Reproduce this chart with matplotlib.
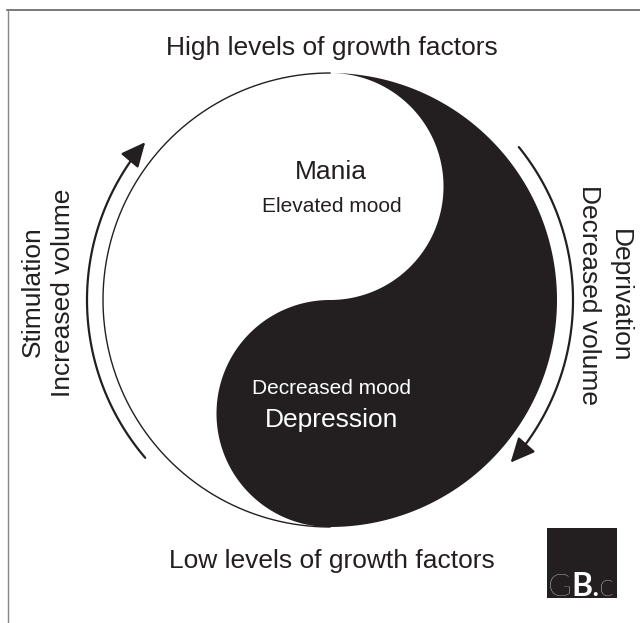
import numpy as np
import matplotlib.pyplot as plt
from matplotlib.path import Path
from matplotlib.patches import FancyArrowPatch, Rectangle

plt.rcParams['font.family'] = ['Liberation Sans', 'DejaVu Sans']

# text of the diagram
top_label = 'High levels of growth factors'
bottom_label = 'Low levels of growth factors'
white_labels = ['Mania', 'Elevated mood']
black_labels = ['Decreased mood', 'Depression']
left_labels = ['Stimulation', 'Increased volume']
right_labels = ['Deprivation', 'Decreased volume']
logo_chars = ['G', 'B', '.', 'c']
logo_weights = ['light', 'bold', 'normal', 'light']

# geometry (pixel units, y pointing down)
cx, cy, R = 330, 300, 227
arrow_r = 243
left_arrow_deg = [139.5, 220.5]
right_arrow_deg = [-39, 42]

ink = '#231f20'


def arc(xc, yc, r, a0, a1, n=200):
    t = np.radians(np.linspace(a0, a1, n))
    return np.column_stack([xc + r * np.cos(t), yc + r * np.sin(t)])


def draw_yinyang(ax):
    outer = arc(cx, cy, R, -90, 90)
    lower = arc(cx, cy + R / 2, R / 2, 90, 270)
    upper = arc(cx, cy - R / 2, R / 2, 90, -90)
    pts = np.vstack([outer, lower, upper])
    ax.fill(pts[:, 0], pts[:, 1], color=ink, lw=0, zorder=2)
    left = arc(cx, cy, R, 90, 270)
    ax.plot(left[:, 0], left[:, 1], color=ink, lw=1.0, zorder=3)


def draw_arrow(ax, a0, a1):
    pts = arc(cx, cy, arrow_r, a0, a1, 120)
    p = FancyArrowPatch(path=Path(pts), arrowstyle='-|>,head_length=0.75,head_width=0.35',
                        mutation_scale=20, color=ink, lw=1.6, zorder=3)
    ax.add_patch(p)


fig = plt.figure(figsize=(6.4, 6.23), dpi=100)
ax = fig.add_axes([0, 0, 1, 1])
ax.set_xlim(0, 640)
ax.set_ylim(623, 0)
ax.axis('off')

# frame lines
ax.plot([7, 640], [9.5, 9.5], color='#555555', lw=1.1)
ax.plot([7.5, 7.5], [9.5, 623], color='#888888', lw=1.0)

draw_yinyang(ax)
draw_arrow(ax, left_arrow_deg[0], left_arrow_deg[1])
draw_arrow(ax, right_arrow_deg[0], right_arrow_deg[1])

ax.text(332, 55, top_label, fontsize=19, color=ink, ha='center', va='baseline')
ax.text(332, 568, bottom_label, fontsize=19, color=ink, ha='center', va='baseline')

ax.text(331, 172, white_labels[0], fontsize=19, color=ink, ha='center', va='center')
ax.text(332, 206, white_labels[1], fontsize=15, color=ink, ha='center', va='center')
ax.text(332, 388, black_labels[0], fontsize=15, color='white', ha='center', va='center', zorder=4)
ax.text(332, 420, black_labels[1], fontsize=19, color='white', ha='center', va='center', zorder=4)

ax.text(33, 292, left_labels[0], fontsize=19, color=ink, rotation=90, ha='center', va='center')
ax.text(63, 293, left_labels[1], fontsize=19, color=ink, rotation=90, ha='center', va='center')
ax.text(620, 296, right_labels[0], fontsize=19, color=ink, rotation=-90, ha='center', va='center')
ax.text(589, 295, right_labels[1], fontsize=19, color=ink, rotation=-90, ha='center', va='center')

# logo box
ax.add_patch(Rectangle((547, 528), 70, 70, color=ink, lw=0))
logo_x = [548, 571, 591, 599]
for ch, w, x in zip(logo_chars, logo_weights, logo_x):
    ax.text(x, 596, ch, fontsize=23, color='white', fontweight=w, family='Lato',
            ha='left', va='baseline')

fig.savefig('out.png', dpi=100)
